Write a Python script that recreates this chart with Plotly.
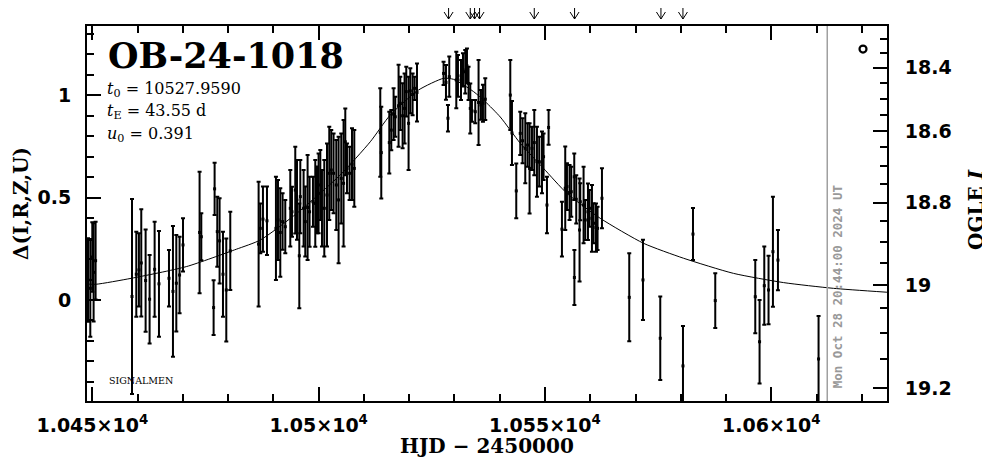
import plotly.graph_objects as go

# ---------------- data ----------------
t_obs = [10449.05, 10449.56, 10450.0, 10450.29, 10450.73,
         10458.77, 10459.72, 10460.30, 10460.82, 10461.78, 10462.66, 10463.77, 10464.73,
         10466.94, 10467.82, 10468.56, 10469.28, 10470.04,
         10473.70, 10474.08,
         10476.80, 10477.02, 10477.61, 10478.12, 10478.87, 10479.60, 10480.48,
         10486.74, 10487.11, 10487.70, 10488.59,
         10490.57, 10491.02, 10491.53, 10492.04, 10492.63, 10493.74, 10494.11, 10494.84,
         10495.22, 10495.73, 10495.95, 10496.68, 10497.05, 10497.56, 10498.00,
         10498.75, 10499.26, 10499.64, 10499.99, 10500.37, 10500.74, 10501.25, 10501.85,
         10502.35, 10502.79, 10503.30, 10503.90, 10504.41, 10505.00, 10505.51, 10505.89,
         10506.26, 10506.84, 10507.37, 10507.88,
         10513.62, 10513.84, 10515.61, 10516.05, 10516.56, 10516.93, 10517.66, 10518.04,
         10518.55, 10518.99, 10519.36, 10519.87, 10520.25, 10520.76, 10521.20, 10521.73,
         10527.60, 10528.13, 10528.57, 10528.86,
         10530.41, 10530.78, 10531.45, 10531.89, 10532.39, 10532.77, 10533.12, 10533.50,
         10533.87, 10534.60, 10535.33, 10535.86, 10536.30, 10536.81,
         10542.34, 10542.71, 10543.66, 10544.54, 10545.05, 10545.65, 10546.16, 10546.60,
         10547.13, 10547.64, 10548.23, 10548.74, 10549.34, 10549.69, 10550.44, 10550.80,
         10553.75, 10554.48, 10554.86, 10555.43, 10555.81, 10556.47, 10556.50, 10556.91,
         10557.64, 10557.80, 10558.53, 10558.90, 10559.50, 10559.85, 10560.38, 10560.74,
         10561.27, 10561.62, 10562.59,
         10568.62, 10571.65, 10575.47, 10580.49, 10582.70, 10587.62, 10596.46, 10597.41,
         10598.45, 10599.39, 10600.36, 10601.47, 10610.44]
d_obs = [0.098, 0.057, 0.21, 0.135, 0.192,
         0.017, 0.126, 0.147, 0.181, 0.095, 0.004, 0.150, 0.079,
         0.106, 0.042, 0.082, 0.122, 0.269,
         0.330, 0.309,
         -0.037, 0.543, 0.334, 0.289, 0.126, 0.049, 0.240,
         0.273, 0.350, 0.395, 0.387,
         0.350, 0.391, 0.330, 0.383, 0.358, 0.448, 0.431, 0.537,
         0.489, 0.216, 0.505, 0.448, 0.383, 0.452, 0.431,
         0.480, 0.472, 0.489, 0.521, 0.562, 0.448, 0.448, 0.513,
         0.619, 0.635, 0.619, 0.562, 0.489, 0.594, 0.570, 0.773,
         0.643, 0.619, 0.664, 0.643,
         0.818, 0.720, 0.769, 0.830, 0.908, 0.895, 0.949, 0.961,
         0.900, 0.936, 1.018, 0.863, 1.022, 1.005, 1.034, 1.014,
         1.107, 1.063, 0.888, 1.091,
         1.075, 1.095, 1.075, 1.124, 1.115, 1.144, 1.058, 0.936,
         0.924, 0.920, 0.965, 0.953, 0.961, 0.981,
         1.001, 0.816, 0.533, 0.814, 0.778, 0.741, 0.757, 0.643,
         0.741, 0.769, 0.676, 0.676, 0.672, 0.700, 0.464, 0.843,
         0.346, 0.546, 0.554, 0.525, 0.529, 0.602, 0.110, 0.492,
         0.342, 0.480, 0.464, 0.391, 0.431, 0.448, 0.399, 0.375,
         0.354, 0.350, 0.497,
         0.013, 0.098, -0.187, -0.322, 0.322, -0.003, 0.016, -0.204,
         0.070, 0.049, 0.236, 0.195, -0.288]
e_obs = [0.204, 0.236, 0.17, 0.24, 0.19,
         0.476, 0.208, 0.179, 0.262, 0.25, 0.216, 0.232, 0.258,
         0.138, 0.319, 0.236, 0.187, 0.130,
         0.297, 0.115,
         0.134, 0.128, 0.171, 0.208, 0.208, 0.252, 0.191,
         0.305, 0.122, 0.159, 0.167,
         0.252, 0.195, 0.216, 0.138, 0.130, 0.187, 0.122, 0.212,
         0.195, 0.256, 0.179, 0.187, 0.171, 0.256, 0.171,
         0.122, 0.212, 0.163, 0.195, 0.171, 0.187, 0.236, 0.252,
         0.228, 0.195, 0.195, 0.220, 0.309, 0.220, 0.309, 0.163,
         0.122, 0.130, 0.175, 0.187,
         0.216, 0.224, 0.151, 0.098, 0.126, 0.098, 0.200, 0.130,
         0.159, 0.171, 0.122, 0.228, 0.110, 0.102, 0.057, 0.142,
         0.057, 0.085, 0.065, 0.098,
         0.138, 0.102, 0.098, 0.081, 0.106, 0.085, 0.081, 0.122,
         0.053, 0.057, 0.208, 0.073, 0.090, 0.102,
         0.171, 0.156, 0.134, 0.106, 0.110, 0.171, 0.106, 0.220,
         0.106, 0.159, 0.171, 0.122, 0.151, 0.114, 0.138, 0.085,
         0.134, 0.204, 0.114, 0.134, 0.122, 0.114, 0.134, 0.118,
         0.252, 0.090, 0.187, 0.098, 0.138, 0.090, 0.163, 0.098,
         0.118, 0.106, 0.147,
         0.215, 0.196, 0.204, 0.195, 0.127, 0.134, 0.179, 0.204,
         0.191, 0.167, 0.269, 0.147, 0.210]

# model curve
t_model = [10448.83, 10450.88, 10458.61, 10470.76, 10481.81, 10487.11, 10495.22, 10504.78,
           10511.41, 10515.83, 10522.08, 10527.60, 10529.81, 10534.23, 10536.81, 10540.13,
           10544.54, 10549.69, 10554.86, 10562.22, 10571.78, 10580.62, 10591.66, 10602.71,
           10613.75, 10625.55]
d_model = [0.078, 0.077, 0.106, 0.163, 0.248, 0.293, 0.424, 0.611,
           0.773, 0.904, 1.026, 1.083, 1.078, 1.018, 0.969, 0.894,
           0.766, 0.643, 0.521, 0.399, 0.277, 0.204, 0.130, 0.085,
           0.057, 0.038]

# arrows at the top (HJD)
t_arrows = [10528.71, 10533.50, 10534.45, 10535.55, 10547.64, 10556.54, 10575.62, 10580.48]

# open circle marker top right
t_circle = [10620.26]
d_circle = [1.226]

# date line
t_now = 10612.36
now_label = "Mon Oct 28 20:44:00 2024 UT"

# x ticks
x_tickvals = [10450, 10500, 10550, 10600]
x_ticktext = ["1.045×10<sup>4</sup>", "1.05×10<sup>4</sup>", "1.055×10<sup>4</sup>", "1.06×10<sup>4</sup>"]

# right axis (OGLE I) ticks, given at their Delta positions
mag_labels = ["18.4", "18.6", "18.8", "19", "19.2"]
mag_major_pos = [1.1348, 0.8256, 0.4763, 0.0733, -0.4314]
mag_minor_pos = [1.2736, 1.2052, 1.0586, 0.9819, 0.9038, 0.7489, 0.6561, 0.5667,
                 0.3874, 0.2848, 0.1822, -0.0376, -0.1597, -0.2897]

event_name = "OB-24-1018"
param_lines = ["<i>t</i><sub>0</sub> = 10527.9590",
               "<i>t</i><sub>E</sub> = 43.55 d",
               "<i>u</i><sub>0</sub> = 0.391"]

# ---------------- figure ----------------
PAGE_OFF = 8          # default body margin of the html page
PL, PT, W, H = 87, 26, 800, 375   # plot area in page pixels
FW, FH = 990 - PAGE_OFF, 459 - PAGE_OFF
L, T = PL - PAGE_OFF, PT - PAGE_OFF
XR = [10448.83, 10625.56]
YR = [-0.4934, 1.3386]


def px_x(px):
    return (px - PL) / W


def px_y(py):
    return (PT + H - py) / H


fig = go.Figure()

fig.add_trace(go.Scatter(
    x=t_model, y=d_model, mode="lines", line=dict(color="black", width=1, shape="spline", smoothing=0.6),
    hoverinfo="skip", showlegend=False))

fig.add_trace(go.Scatter(
    x=t_obs, y=d_obs, mode="markers",
    marker=dict(symbol="square", size=3, color="black"),
    error_y=dict(type="data", array=e_obs, visible=True, color="black", thickness=2, width=2),
    showlegend=False))

fig.add_trace(go.Scatter(
    x=t_circle, y=d_circle, mode="markers", yaxis="y2",
    marker=dict(symbol="circle-open", size=7, color="black", line=dict(width=2.2, color="black")),
    showlegend=False))

fig.add_shape(type="line", xref="x", yref="paper", x0=t_now, x1=t_now, y0=0, y1=1,
              line=dict(color="#a0a0a0", width=1.5))

# arrows at top: shaft + two head strokes, placed in pixels around each HJD
tip_y = px_y(19)
for ta in t_arrows:
    common = dict(type="line", xref="x", yref="paper", xsizemode="pixel", ysizemode="pixel",
                  xanchor=ta, yanchor=tip_y, line=dict(color="black", width=1))
    fig.add_shape(x0=0, x1=0, y0=0, y1=19, **common)
    fig.add_shape(x0=-4.5, x1=0, y0=7, y1=0, **common)
    fig.add_shape(x0=4.5, x1=0, y0=7, y1=0, **common)

tickfont = dict(family="DejaVu Sans", size=19, color="black", weight="bold")

fig.update_layout(
    width=FW, height=FH,
    margin=dict(l=L, r=FW - L - W, t=T, b=FH - T - H, autoexpand=False),
    paper_bgcolor="white", plot_bgcolor="white",
    xaxis=dict(range=XR, showgrid=False, zeroline=False, showline=True, linecolor="black", linewidth=2,
               mirror="ticks", ticks="inside", ticklen=14, tickwidth=2, tickcolor="black",
               tickmode="array", tickvals=x_tickvals, ticktext=x_ticktext, tickfont=tickfont,
               ticklabelstandoff=6,
               minor=dict(ticks="inside", ticklen=7, tickwidth=2, tickcolor="black", dtick=10, tick0=10450)),
    yaxis=dict(range=YR, showgrid=False, zeroline=False, showline=True, linecolor="black", linewidth=2,
               ticks="inside", ticklen=14, tickwidth=2, tickcolor="black", dtick=0.5, tick0=0,
               tickfont=tickfont, ticklabelstandoff=10,
               minor=dict(ticks="inside", ticklen=7, tickwidth=2, tickcolor="black", dtick=0.1, tick0=0)),
    yaxis2=dict(range=YR, overlaying="y", side="right", showgrid=False, zeroline=False, showline=True,
                linecolor="black", linewidth=2, ticks="inside", ticklen=14, tickwidth=2, tickcolor="black",
                tickmode="array", tickvals=mag_major_pos, ticktext=mag_labels, tickfont=tickfont,
                ticklabelstandoff=12,
                minor=dict(ticks="inside", ticklen=7, tickwidth=2, tickcolor="black", tickvals=mag_minor_pos)),
)

ann = []
serif_b = dict(family="DejaVu Serif", color="black", weight="bold")
ann.append(dict(text=event_name, xref="paper", yref="paper", x=px_x(106), y=px_y(56),
                xanchor="left", yanchor="middle", showarrow=False,
                font=dict(size=35, **serif_b)))
for i, line in enumerate(param_lines):
    ann.append(dict(text=line, xref="paper", yref="paper", x=px_x(105), y=px_y([89, 111, 134][i]),
                    xanchor="left", yanchor="middle", showarrow=False,
                    font=dict(family="DejaVu Serif", size=16, color="black")))
ann.append(dict(text="SIGNALMEN", xref="paper", yref="paper", x=px_x(107), y=px_y(380),
                xanchor="left", yanchor="middle", showarrow=False,
                font=dict(family="DejaVu Serif", size=9.5, color="black")))
ann.append(dict(text="HJD − 2450000", xref="paper", yref="paper", x=px_x(487), y=px_y(446),
                xanchor="center", yanchor="middle", showarrow=False, font=dict(size=20, **serif_b)))
ann.append(dict(text="Δ(I,R,Z,U)", xref="paper", yref="paper", x=px_x(21), y=px_y(204),
                xanchor="center", yanchor="middle", showarrow=False, textangle=-90,
                font=dict(size=20, **serif_b)))
ann.append(dict(text="OGLE <i>I</i>", xref="paper", yref="paper", x=px_x(976), y=px_y(210),
                xanchor="center", yanchor="middle", showarrow=False, textangle=-90,
                font=dict(size=20, **serif_b)))
ann.append(dict(text=now_label, xref="x", yref="paper", x=t_now, y=px_y(390),
                xanchor="left", yanchor="bottom", xshift=1, showarrow=False, textangle=-90,
                font=dict(family="DejaVu Sans Mono", size=12.5, color="#999999", weight="bold")))

fig.update_layout(annotations=ann)

fig.write_html("out.html")
